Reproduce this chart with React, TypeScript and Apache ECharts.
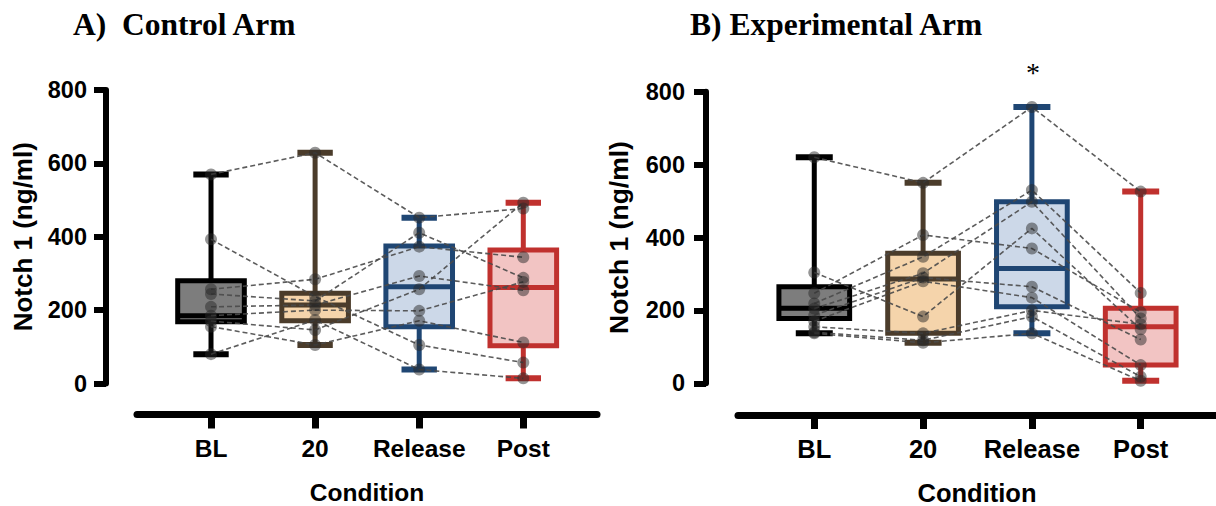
import React, { useEffect, useRef } from "react";
import * as echarts from "echarts";

// ---- data ----
const categories = ["BL", "20", "Release", "Post"];
const yTickInterval = 200;

// box summaries [min, Q1, median, Q3, max] per condition
const controlBL = [80, 168, 185, 280, 570];
const control20 = [105, 171, 214, 246, 629];
const controlRelease = [38, 155, 264, 375, 452];
const controlPost = [14, 103, 262, 364, 493];

const expBL = [137, 178, 206, 265, 620];
const exp20 = [111, 137, 286, 357, 550];
const expRelease = [137, 210, 315, 498, 758];
const expPost = [7, 50, 155, 206, 526];

// individual subjects: values at BL, 20, Release, Post
const controlSubjects = [
  [570, 629, 452, 477],
  [393, 237, 105, 57],
  [257, 284, 373, 344],
  [244, 225, 411, 288],
  [209, 214, 293, 254],
  [185, 200, 198, 277],
  [170, 146, 257, 493],
  [155, 105, 171, 112],
  [80, 173, 38, 14],
];

const expSubjects = [
  [620, 550, 758, 526],
  [304, 183, 425, 148],
  [247, 407, 370, 195],
  [219, 347, 530, 248],
  [205, 302, 498, 178],
  [187, 290, 265, 120],
  [170, 280, 235, 50],
  [155, 137, 200, 162],
  [140, 118, 183, 18],
  [137, 111, 137, 7],
];

const strokeColors = ["#000000", "#4b3c2b", "#1f4673", "#c0312e"];
const fillColors = ["#7d7d7d", "#f5d4ab", "#ccd8e8", "#f2c4c3"];

const SANS = "'Liberation Sans', Arial, sans-serif";
const SERIF = "'Liberation Serif', 'Times New Roman', serif";

function boxRenderer(widthFrac: number, capFrac: number) {
  return (params: any, api: any) => {
    const x = api.value(0);
    const ci = x as number;
    const lo = api.coord([x, api.value(1)]);
    const q1 = api.coord([x, api.value(2)]);
    const med = api.coord([x, api.value(3)]);
    const q3 = api.coord([x, api.value(4)]);
    const hi = api.coord([x, api.value(5)]);
    const band = api.size([1, 0])[0];
    const bw = band * widthFrac;
    const cw = band * capFrac;
    const cx = lo[0];
    const stroke = strokeColors[ci];
    const fill = fillColors[ci];
    return {
      type: "group",
      children: [
        { type: "line", shape: { x1: cx, y1: hi[1], x2: cx, y2: q3[1] }, style: { stroke, lineWidth: 5 } },
        { type: "line", shape: { x1: cx, y1: q1[1], x2: cx, y2: lo[1] }, style: { stroke, lineWidth: 5 } },
        { type: "line", shape: { x1: cx - cw / 2, y1: hi[1], x2: cx + cw / 2, y2: hi[1] }, style: { stroke, lineWidth: 6 } },
        { type: "line", shape: { x1: cx - cw / 2, y1: lo[1], x2: cx + cw / 2, y2: lo[1] }, style: { stroke, lineWidth: 6 } },
        {
          type: "rect",
          shape: { x: cx - bw / 2, y: q3[1], width: bw, height: q1[1] - q3[1] },
          style: { fill, stroke, lineWidth: 5 },
        },
        { type: "line", shape: { x1: cx - bw / 2, y1: med[1], x2: cx + bw / 2, y2: med[1] }, style: { stroke, lineWidth: 5 } },
      ],
    };
  };
}

function xAxisFor(gridIndex: number, min: number, max: number, offset: number, nameSize: number, labelSize: number) {
  return {
    type: "value",
    gridIndex,
    min,
    max,
    position: "bottom",
    offset,
    splitLine: { show: false },
    axisLine: { show: true, onZero: false, lineStyle: { color: "#000", width: 7 } },
    axisTick: { show: true, customValues: [0, 1, 2, 3], length: 14, lineStyle: { color: "#000", width: 7 } },
    axisLabel: {
      show: true,
      customValues: [0, 1, 2, 3],
      formatter: (v: number) => categories[Math.round(v)] ?? "",
      color: "#000",
      fontFamily: SANS,
      fontWeight: "bold",
      fontSize: labelSize,
      margin: 21,
    },
    name: "Condition",
    nameLocation: "middle",
    nameGap: 65,
    nameTextStyle: { color: "#000", fontFamily: SANS, fontWeight: "bold", fontSize: nameSize },
  };
}

function yAxisFor(gridIndex: number, offset: number, nameGap: number, nameSize: number, labelMargin: number) {
  return {
    type: "value",
    gridIndex,
    min: 0,
    max: 800,
    interval: yTickInterval,
    offset,
    splitLine: { show: false },
    axisLine: { show: true, onZero: false, lineStyle: { color: "#000", width: 6 } },
    axisTick: { show: true, length: 12, lineStyle: { color: "#000", width: 6 } },
    axisLabel: {
      color: "#000",
      fontFamily: SANS,
      fontWeight: "bold",
      fontSize: 23.5,
      margin: labelMargin,
    },
    name: "Notch 1 (ng/ml)",
    nameLocation: "middle",
    nameGap,
    nameTextStyle: { color: "#000", fontFamily: SANS, fontWeight: "bold", fontSize: nameSize },
  };
}

export default function App() {
  const ref = useRef<HTMLDivElement>(null);

  useEffect(() => {
    if (!ref.current) return;
    const chart = echarts.init(ref.current, undefined, { renderer: "svg" });

    const controlBoxes = [controlBL, control20, controlRelease, controlPost].map((b, i) => [i, ...b]);
    const expBoxes = [expBL, exp20, expRelease, expPost].map((b, i) => [i, ...b]);

    const lineSeries = (subjects: number[][], idx: number) =>
      subjects.map((s) => ({
        type: "line",
        xAxisIndex: idx,
        yAxisIndex: idx,
        data: s.map((v, i) => [i, v]),
        symbol: "none",
        silent: true,
        z: 3,
        lineStyle: { color: "#4a4a4a", width: 1.6, type: [5, 3], opacity: 0.9 },
      }));

    const pointSeries = (subjects: number[][], idx: number) => ({
      type: "scatter",
      xAxisIndex: idx,
      yAxisIndex: idx,
      data: subjects.flatMap((s) => s.map((v, i) => [i, v])),
      symbolSize: 12,
      z: 4,
      itemStyle: { color: "rgba(40,40,40,0.62)" },
    });

    chart.setOption({
      animation: false,
      backgroundColor: "#fff",
      title: [
        {
          text: "A)  Control Arm",
          left: 73,
          top: 8,
          padding: 0,
          textStyle: { fontFamily: SERIF, fontWeight: "bold", fontSize: 31.5, color: "#000" },
        },
        {
          text: "B) Experimental Arm",
          left: 690,
          top: 8,
          padding: 0,
          textStyle: { fontFamily: SERIF, fontWeight: "bold", fontSize: 31.5, color: "#000" },
        },
      ],
      grid: [
        { left: 137, top: 90, width: 460, height: 293.5, outerBoundsMode: "none", containLabel: false },
        { left: 738, top: 91.7, width: 478, height: 291.6, outerBoundsMode: "none", containLabel: false },
      ],
      xAxis: [xAxisFor(0, -0.711, 3.708, 31, 24.5, 24.5), xAxisFor(1, -0.701, 3.692, 31.7, 25.5, 25.5)],
      yAxis: [yAxisFor(0, 31, 70, 26, 19), yAxisFor(1, 32, 74, 26.5, 21)],
      graphic: [
        {
          type: "text",
          x: 1033,
          y: 72,
          style: {
            text: "*",
            fontFamily: SERIF,
            fontSize: 28,
            fill: "#000",
            align: "center",
            verticalAlign: "middle",
          },
        },
      ],
      series: [
        {
          type: "custom",
          xAxisIndex: 0,
          yAxisIndex: 0,
          renderItem: boxRenderer(0.64, 0.34),
          data: controlBoxes,
          encode: { x: 0, y: [1, 2, 3, 4, 5] },
          z: 2,
        },
        {
          type: "custom",
          xAxisIndex: 1,
          yAxisIndex: 1,
          renderItem: boxRenderer(0.65, 0.34),
          data: expBoxes,
          encode: { x: 0, y: [1, 2, 3, 4, 5] },
          z: 2,
        },
        ...lineSeries(controlSubjects, 0),
        ...lineSeries(expSubjects, 1),
        pointSeries(controlSubjects, 0),
        pointSeries(expSubjects, 1),
      ],
    });

    return () => chart.dispose();
  }, []);

  return (
    <div
      ref={ref}
      style={{ position: "fixed", left: 0, top: 0, width: 1216, height: 506, background: "#fff" }}
    />
  );
}
